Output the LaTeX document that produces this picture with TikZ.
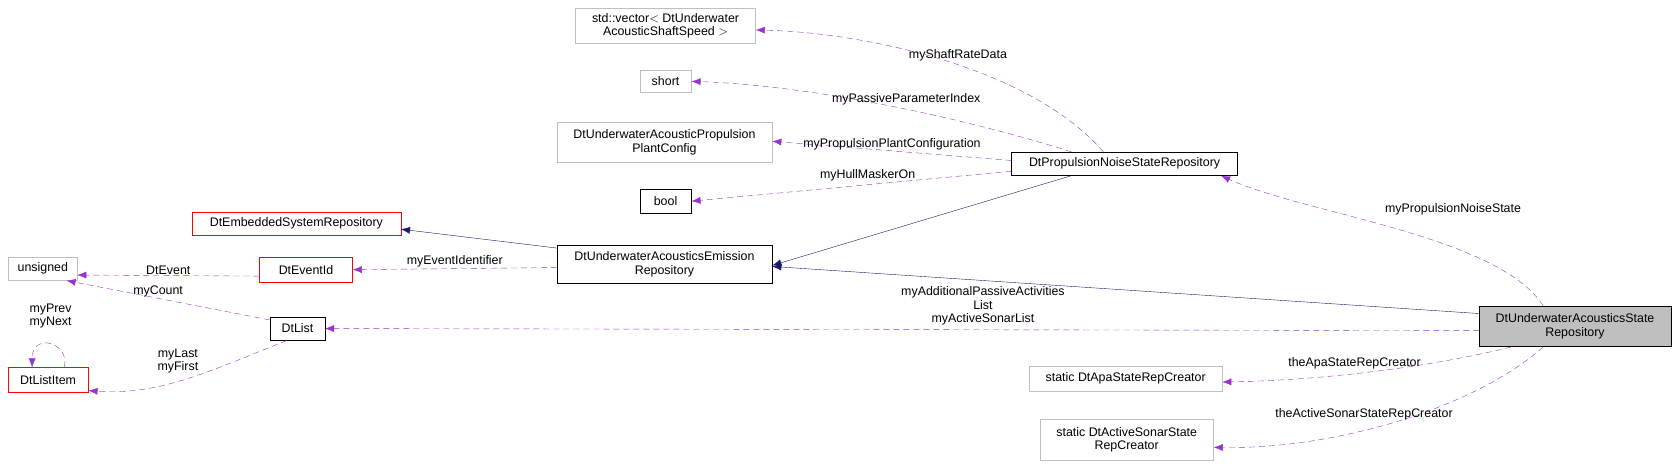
\documentclass[tikz,border=0pt]{standalone}
\usepackage{fontspec}
\setmainfont{Liberation Sans}
\usetikzlibrary{calc,arrows.meta}
\definecolor{edgepurple}{RGB}{153,50,204}
\definecolor{inhnavy}{RGB}{25,25,112}
\definecolor{boxgray}{RGB}{191,191,191}
\begin{document}
\begin{tikzpicture}[x=1pt,y=-1pt,scale=1.07,
	every node/.style={font=\fontsize{11.6}{12.6}\selectfont,transform shape},
	cls/.style={draw,rectangle,inner sep=0pt,align=center,fill=white},
	grey/.style={cls,draw=boxgray},
	red/.style={cls,draw=red},
	blk/.style={cls,draw=black},
	use/.style={draw=edgepurple,dashed,dash pattern=on 6pt off 4pt,-{Latex[length=9pt,width=7pt]}},
	inh/.style={draw=inhnavy,-{Latex[length=9pt,width=7pt]}},
	lbl/.style={inner sep=1pt,align=center}]
				%box placement by hand, as in the graph
				\useasboundingbox (0,0) rectangle (1567.3,433.6);
				\node[grey,minimum width=168,minimum height=32] (vec) at (622,24){std::vector$<$ DtUnderwater\\AcousticShaftSpeed $>$};
				\node[grey,minimum width=48,minimum height=20] (short) at (622,76){short};
				\node[grey,minimum width=201,minimum height=38] (plant) at (621,133){DtUnderwaterAcousticPropulsion\\PlantConfig};
				\node[blk,minimum width=211,minimum height=22] (prop) at (1051,153){DtPropulsionNoiseStateRepository};
				\node[blk,minimum width=48,minimum height=22] (bool) at (622,188){bool};
				\node[red,minimum width=195,minimum height=22] (emb) at (277,209){DtEmbeddedSystemRepository};
				\node[blk,minimum width=201,minimum height=36] (emi) at (621,247){DtUnderwaterAcousticsEmission\\Repository};
				\node[grey,minimum width=64,minimum height=22] (uns) at (40,251){unsigned};
				\node[red,minimum width=87,minimum height=23] (evid) at (286,252){DtEventId};
				\node[blk,minimum width=51,minimum height=22] (dtlist) at (278,307){DtList};
				\node[red,minimum width=75,minimum height=23] (item) at (45,355){DtListItem};
				\node[blk,fill=boxgray,minimum width=179,minimum height=38] (state) at (1472,305){DtUnderwaterAcousticsState\\Repository};
				\node[grey,minimum width=180,minimum height=24] (apa) at (1052,354){static DtApaStateRepCreator};
				\node[grey,minimum width=162,minimum height=38] (sonar) at (1053,411){static DtActiveSonarState\\RepCreator};

				%% inheritance
				\draw[inh] ($(emi.north west)+(0,3)$) -- ($(emb.south east)+(0,-6)$);
				\draw[inh] ($(prop.south)+(-50,0)$) -- ($(emi.east)+(0,1)$);
				\draw[inh] ($(state.west)+(0,-12)$) -- ($(emi.east)+(0,2)$);

				%% usage
				\draw[use] ($(prop.north)+(-20,0)$) .. controls (960,60) and (800,30) .. ($(vec.east)+(0,4)$) node[lbl,pos=.45,above=2pt]{myShaftRateData};
				\draw[use] ($(prop.north)+(-50,0)$) .. controls (900,110) and (760,80) .. (short.east) node[lbl,pos=.45,above=3pt]{myPassiveParameterIndex};
				\draw[use] ($(prop.west)+(0,-3)$) -- ($(plant.east)+(0,-1)$) node[lbl,midway,above]{myPropulsionPlantConfiguration};
				\draw[use] ($(prop.west)+(0,7)$) -- (bool.east) node[lbl,pos=.45,above=2pt]{myHullMaskerOn};
				\draw[use] ($(state.north)+(-30,0)$) .. controls (1400,220) and (1220,200) .. ($(prop.south)+(90,0)$) node[lbl,pos=.55,above right=6pt]{myPropulsionNoiseState};
				\draw[use] ($(emi.west)+(0,3)$) -- (evid.east) node[lbl,midway,above]{myEventIdentifier};
				\draw[use] ($(evid.west)+(0,6)$) -- ($(uns.east)+(0,6)$) node[lbl,midway,above]{DtEvent};
				\draw[use] ($(dtlist.west)+(0,-8)$) -- ($(uns.south east)+(-10,0)$) node[lbl,pos=.55,above]{myCount};
				\draw[use] ($(dtlist.south)+(-10,0)$) .. controls (200,345) and (150,370) .. ($(item.east)+(0,10)$) node[lbl,pos=.55,above=6pt]{myLast\\myFirst};
				\draw[use] ($(item.north)+(15,0)$) .. controls (66,320) and (30,310) .. ($(item.north)+(-15,0)$) node[lbl,pos=.5,above=14pt]{myPrev\\myNext};
				\draw[use] ($(state.west)+(0,4)$) -- (dtlist.east) node[lbl,pos=.43,above=3pt]{myAdditionalPassiveActivities\\List\\myActiveSonarList};
				\draw[use] ($(state.south)+(-60,0)$) .. controls (1350,340) and (1250,355) .. ($(apa.east)+(0,3)$) node[lbl,pos=.6,above=3pt]{theApaStateRepCreator};
				\draw[use] ($(state.south)+(-30,0)$) .. controls (1380,380) and (1250,420) .. ($(sonar.east)+(0,7)$) node[lbl,pos=.6,above=8pt]{theActiveSonarStateRepCreator};
\end{tikzpicture}
\end{document}
